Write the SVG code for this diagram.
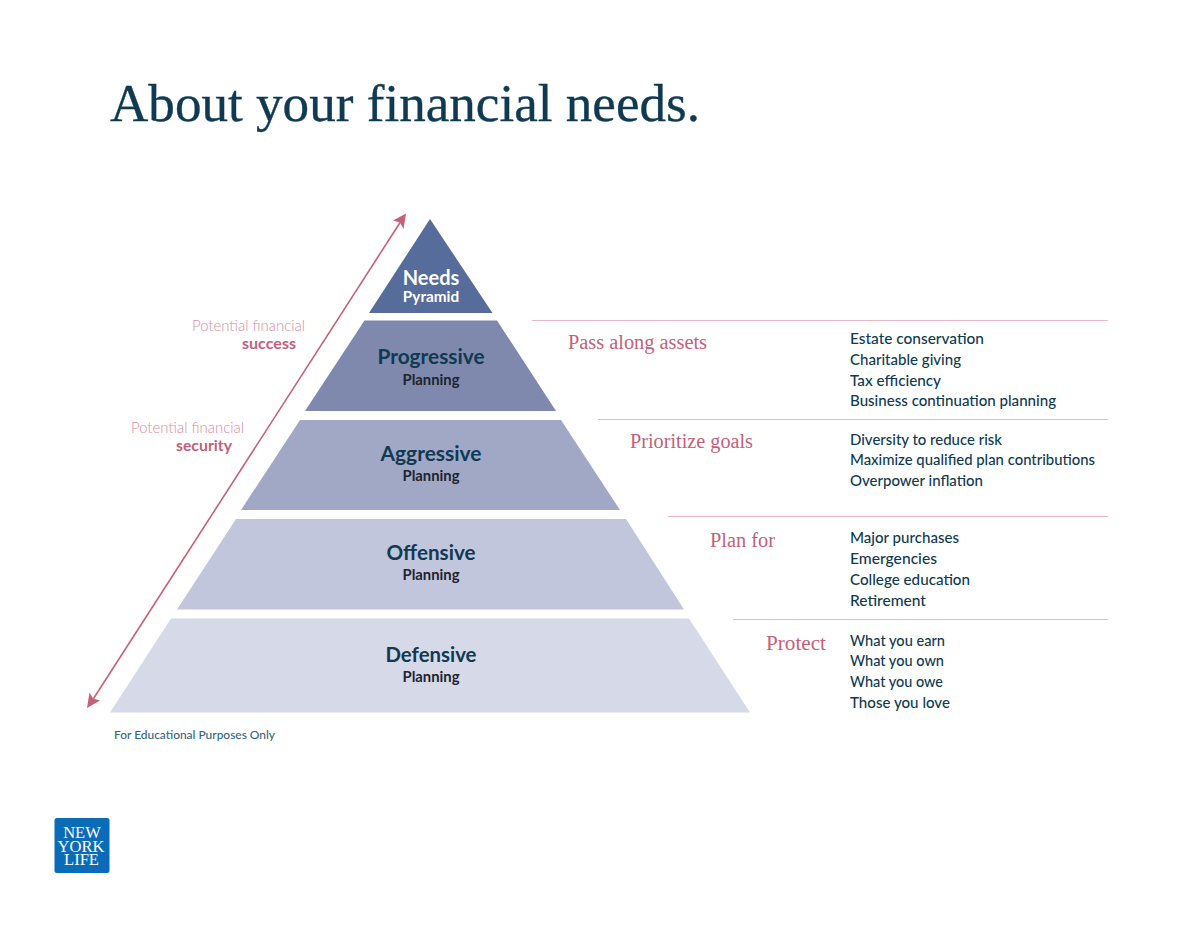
<svg xmlns="http://www.w3.org/2000/svg" width="1200" height="927" viewBox="0 0 1200 927">
<style>
text{font-family:"Lato","Liberation Sans",sans-serif}
.title{font-family:"Liberation Serif",serif;font-size:53px;fill:#0f3a52;stroke:#0f3a52;stroke-width:.35px}
.h{font-size:21px;font-weight:700;fill:#0f3a52;text-anchor:middle}
.s{font-size:14.700px;font-weight:700;fill:#1d2430;text-anchor:middle}
.g{font-family:"Liberation Serif",serif;font-size:20.500px;fill:#c4607a}
.li{font-size:15px;fill:#0f3a52;font-weight:500}
.pl{font-size:15px;font-weight:300;fill:#dd8ba0;text-anchor:end}
.pb{font-size:15.500px;font-weight:700;fill:#c4607a;text-anchor:end}
.rule{stroke:#e9b9c6;stroke-width:1;fill:none}
.ar{stroke:#c4607a;stroke-width:1.600;fill:none}
.hd{fill:#c4607a}
.lg{font-family:"Liberation Serif",serif;fill:#fff;font-size:16.500px;text-anchor:middle}
</style>
<text class="title" x="110" y="121" textLength="590" lengthAdjust="spacingAndGlyphs">About your financial needs.</text>
<g id="connectors">
<path class="ar" d="M90 704L403 218"/>
<path class="hd" d="M406 213.500L403.500 229L400 222.500L393 220.500Z"/>
<path class="hd" d="M87 708L89.500 692.500L93 698.500L100 700.500Z"/>
<path class="rule" d="M532 320.500H1108M598 419.500H1108M668 516.500H1108M733 619.500H1108"/>
</g>
<g id="needs"><path fill="#566d9b" d="M430 219L492.500 313H369Z"/>
<text x="431" class="s" style="fill:#fff;font-size:15.300px"><tspan class="h" x="431" y="284.500" style="fill:#fff;font-size:20px">Needs</tspan><tspan x="431" y="301.500">Pyramid</tspan></text></g>
<g id="progressive"><path fill="#7e89ad" d="M364.500 320.500H497L556 411H305Z"/>
<text class="h" x="431" y="364" textLength="107" lengthAdjust="spacingAndGlyphs">Progressive</text><text class="s" x="431" y="385" textLength="57" lengthAdjust="spacingAndGlyphs">Planning</text></g>
<g id="aggressive"><path fill="#a1a8c6" d="M300 420H561L620 510H241Z"/>
<text class="h" x="431" y="460.500" textLength="101" lengthAdjust="spacingAndGlyphs">Aggressive</text><text class="s" x="431" y="481" textLength="57" lengthAdjust="spacingAndGlyphs">Planning</text></g>
<g id="offensive"><path fill="#c1c6dc" d="M236 519H626L684 609.500H177Z"/>
<text class="h" x="431" y="559.500" textLength="89" lengthAdjust="spacingAndGlyphs">Offensive</text><text class="s" x="431" y="580" textLength="57" lengthAdjust="spacingAndGlyphs">Planning</text></g>
<g id="defensive"><path fill="#d6d9e8" d="M171 618.500H689L750 712.500H110Z"/>
<text class="h" x="431" y="661.500" textLength="91" lengthAdjust="spacingAndGlyphs">Defensive</text><text class="s" x="431" y="682" textLength="57" lengthAdjust="spacingAndGlyphs">Planning</text></g>
<g id="labels">
<text class="pl" x="305" y="331" textLength="113" lengthAdjust="spacingAndGlyphs">Potential financial</text><text class="pb" x="296" y="348.500" textLength="54" lengthAdjust="spacingAndGlyphs">success</text>
<text class="pl" x="244" y="433" textLength="113" lengthAdjust="spacingAndGlyphs">Potential financial</text><text class="pb" x="232" y="450.500" textLength="56" lengthAdjust="spacingAndGlyphs">security</text>
<text class="g" x="568" y="348.500" textLength="139" lengthAdjust="spacingAndGlyphs">Pass along assets</text>
<text class="g" x="630" y="448" textLength="123" lengthAdjust="spacingAndGlyphs">Prioritize goals</text>
<text class="g" x="710" y="546.500" textLength="65" lengthAdjust="spacingAndGlyphs">Plan for</text>
<text class="g" x="766" y="649.500" textLength="60" lengthAdjust="spacingAndGlyphs">Protect</text>
<text class="li" x="850" y="344" textLength="134" lengthAdjust="spacingAndGlyphs">Estate conservation</text>
<text class="li" x="850" y="365" textLength="111" lengthAdjust="spacingAndGlyphs">Charitable giving</text>
<text class="li" x="850" y="385.500" textLength="91" lengthAdjust="spacingAndGlyphs">Tax efficiency</text>
<text class="li" x="850" y="406" textLength="206" lengthAdjust="spacingAndGlyphs">Business continuation planning</text>
<text class="li" x="850" y="445" textLength="152" lengthAdjust="spacingAndGlyphs">Diversity to reduce risk</text>
<text class="li" x="850" y="465" textLength="245" lengthAdjust="spacingAndGlyphs">Maximize qualified plan contributions</text>
<text class="li" x="850" y="486" textLength="133" lengthAdjust="spacingAndGlyphs">Overpower inflation</text>
<text class="li" x="850" y="543" textLength="109" lengthAdjust="spacingAndGlyphs">Major purchases</text>
<text class="li" x="850" y="564" textLength="87" lengthAdjust="spacingAndGlyphs">Emergencies</text>
<text class="li" x="850" y="585" textLength="120" lengthAdjust="spacingAndGlyphs">College education</text>
<text class="li" x="850" y="605.500" textLength="76" lengthAdjust="spacingAndGlyphs">Retirement</text>
<text class="li" x="850" y="646" textLength="95" lengthAdjust="spacingAndGlyphs">What you earn</text>
<text class="li" x="850" y="666" textLength="94" lengthAdjust="spacingAndGlyphs">What you own</text>
<text class="li" x="850" y="687" textLength="93" lengthAdjust="spacingAndGlyphs">What you owe</text>
<text class="li" x="850" y="708" textLength="100" lengthAdjust="spacingAndGlyphs">Those you love</text>
<text x="114" y="738.500" font-size="12" fill="#33667e" font-weight="500" textLength="161" lengthAdjust="spacingAndGlyphs">For Educational Purposes Only</text>
</g>
<g id="logo"><rect x="54.500" y="818" width="55" height="55" rx="2.500" fill="#0a6cb8"/>
<text class="lg"><tspan x="82" y="838">NEW</tspan><tspan x="81" y="851.500">YORK</tspan><tspan x="81.500" y="865">LIFE</tspan></text></g>
</svg>
